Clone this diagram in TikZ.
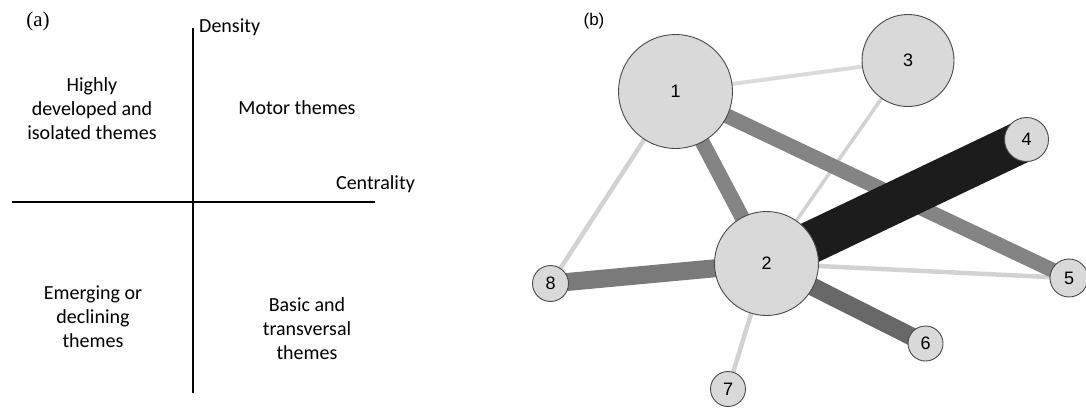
\documentclass[tikz,border=0pt]{standalone}
\usepackage{fontspec}
\setmainfont{Carlito}
\newfontfamily\arialf{Liberation Sans}
\newfontfamily\timesf{Liberation Serif}
\usetikzlibrary{backgrounds}
\definecolor{nodefill}{HTML}{D9D9D9}
\definecolor{nodeline}{HTML}{4A4A4A}
\definecolor{thin}{HTML}{D2D2D2}
\definecolor{mid}{HTML}{848484}
\definecolor{midd}{HTML}{7A7A7A}
\definecolor{dark}{HTML}{686868}
\definecolor{blk}{HTML}{1C1C1C}
\tikzset{
  quad/.style={align=center,font=\fontsize{20}{24}\selectfont,inner sep=0pt},
  axislabel/.style={font=\fontsize{20}{24}\selectfont,inner sep=0pt},
  axisline/.style={draw=black,line width=1.1pt},
  theme/.style={circle,draw=nodeline,fill=nodefill,line width=0.9pt,inner sep=0pt,
     font=\arialf\fontsize{18}{20}\selectfont},
  edgethin/.style={draw=thin,line width=4.5pt},
  edgemid/.style={draw=mid,line width=15pt},
}
\begin{document}
\begin{tikzpicture}[x=1pt,y=-1pt]
\useasboundingbox (0,0) rectangle (1086,407);
% panel (a)
\node[font=\timesf\fontsize{21}{24}\selectfont,inner sep=0pt] (la) at (38,21) {(a)};
\coordinate (vt) at (193,28);
\coordinate (vb) at (193,393);
\coordinate (hl) at (12,202);
\coordinate (hr) at (375,202);
\draw[axisline] (vt) -- (vb);
\draw[axisline] (hl) -- (hr);
\node[axislabel,anchor=west] (dens) at (199,27) {Density};
\node[axislabel,anchor=east] (cent) at (415,184) {Centrality};
\node[quad] (q1) at (92,109) {Highly\\developed and\\isolated themes};
\node[quad] (q2) at (297,108) {Motor themes};
\node[quad] (q3) at (93,317) {Emerging or\\declining\\themes};
\node[quad] (q4) at (307,329) {Basic and\\transversal\\themes};
% panel (b)
\node[font=\arialf\fontsize{17}{20}\selectfont,inner sep=0pt] (lb) at (594,21) {(b)};
\node[theme,minimum size=114pt] (n1) at (675.5,91.5) {1};
\node[theme,minimum size=104pt] (n2) at (766.5,263.5) {2};
\node[theme,minimum size=92pt] (n3) at (908,60.5) {3};
\node[theme,minimum size=44pt] (n4) at (1026.5,139.5) {4};
\node[theme,minimum size=38pt] (n5) at (1069,278) {5};
\node[theme,minimum size=35pt] (n6) at (925.5,343.5) {6};
\node[theme,minimum size=35pt] (n7) at (728,389) {7};
\node[theme,minimum size=36pt] (n8) at (550.5,283.5) {8};
\begin{pgfonlayer}{background}
\draw[edgethin,line width=4pt,draw=thin!80] (n1.center) -- (n3.center);
\draw[edgethin] (n1.center) -- (n8.center);
\draw[edgethin,line width=3.5pt] (n2.center) -- (n3.center);
\draw[edgethin] (n2.center) -- (n5.center);
\draw[edgethin] (n2.center) -- (n7.center);
\draw[edgemid] (n1.center) -- (n5.center);
\draw[edgemid] (n1.center) -- (n2.center);
\draw[edgemid,draw=midd,line width=18pt] (n2.center) -- (n8.center);
\draw[edgemid,draw=dark,line width=18pt] (n2.center) -- (n6.center);
\draw[draw=blk,line width=42pt] (n2.center) -- (n4.center);
\end{pgfonlayer}
\end{tikzpicture}
\end{document}
